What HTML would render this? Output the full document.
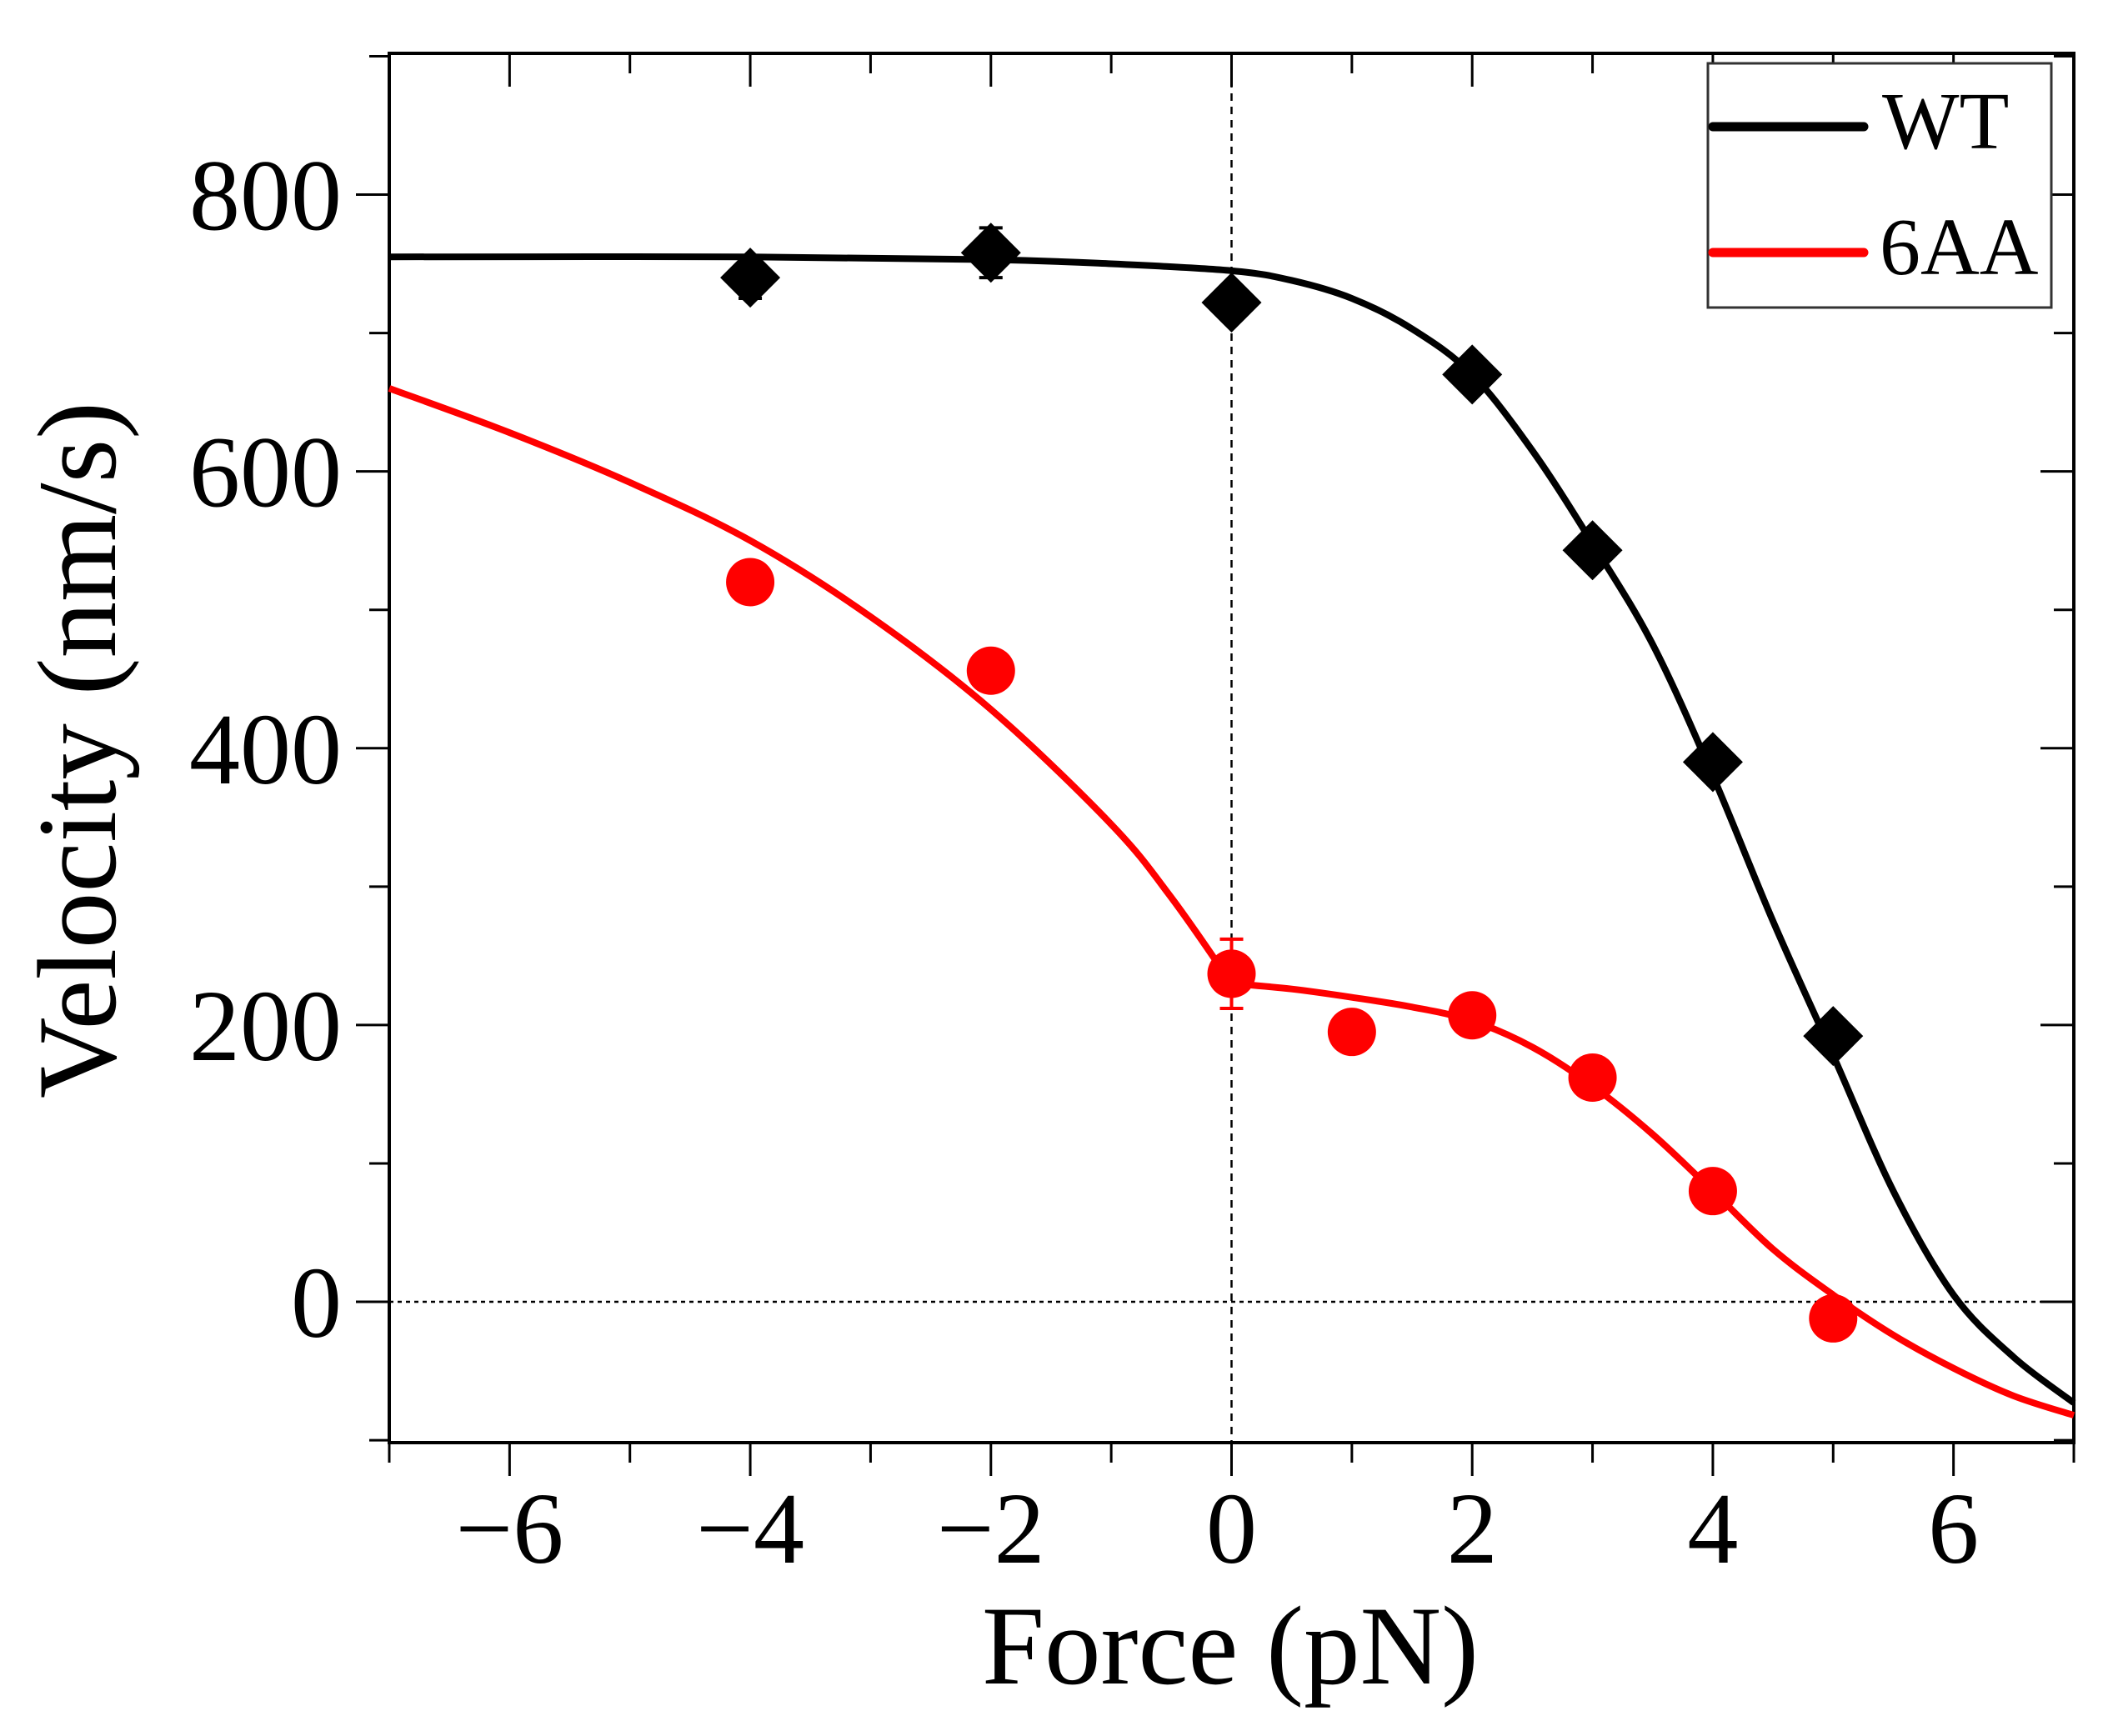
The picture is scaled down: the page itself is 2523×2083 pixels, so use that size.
<!DOCTYPE html>
<html><head><meta charset="utf-8"><style>
html,body{margin:0;padding:0;background:#fff;}
svg{display:block;font-family:"Liberation Serif",serif;}
</style></head><body>
<svg id="chart" width="2523" height="2083" viewBox="0 0 2523 2083">
<g id="axes"></g>
<g id="series"></g>
<g>
<rect x="2049" y="76" width="412" height="293" fill="#fff" stroke="#333" stroke-width="3"/>
<line x1="2055" y1="152" x2="2236" y2="152" stroke="#000" stroke-width="11" stroke-linecap="round"/>
<text x="2258" y="178" font-size="98">WT</text>
<line x1="2055" y1="303" x2="2236" y2="303" stroke="#f00" stroke-width="11" stroke-linecap="round"/>
<text x="2255" y="329" font-size="98">6AA</text>
</g>
<text x="1476" y="2020" font-size="135" text-anchor="middle">Force (pN)</text>
<text transform="translate(138,900) rotate(-90)" font-size="135" text-anchor="middle">Velocity (nm/s)</text>
</svg>
<script>
const xTicks=[-6,-4,-2,0,2,4,6];
const xTickLabels=["\u22126","\u22124","\u22122","0","2","4","6"];
const yTicks=[0,200,400,600,800];
const yTickLabels=["0","200","400","600","800"];
const wtForce=[-4,-2,0,2,3,4,5];
const wtVel=[740,758,722,670,543,390,192];
const wtErr=[15,18,12,10,10,10,10];
const aaForce=[-4,-2,0,1,2,3,4,5];
const aaVel=[520,456,237,195,207,162,80,-12];
const aaErr=[8,8,25,8,8,8,8,8];
const wtFitX=[-7,-4,-2,-1,0,0.5,1,1.5,2,2.5,3,3.5,4,4.5,5,5.5,6,6.5,7];
const wtFitY=[755,755,753,750,745,738,725,703,670,615,548,475,380,275,178,80,5,-40,-73];
const aaFitLeftX=[-7,-6,-5,-4,-3,-2,-1,-0.5,0];
const aaFitLeftY=[660,628,592,550,495,428,345,292,230];
const aaFitRightX=[0,0.5,1,1.5,2,2.5,3,3.5,4,4.5,5,5.5,6,6.5,7];
const aaFitRightY=[230,226,220,213,203,184,156,121,80,38,5,-24,-48,-68,-82];

const L=467,R=2488,T=64,B=1731;
const xMin=-7,xMax=7;
const X=v=>L+(v-xMin)/(xMax-xMin)*(R-L);
const Y=v=>1562-(v-0)*(1562-233.5)/800;
const NS="http://www.w3.org/2000/svg";
function mk(tag,attrs,parent){const e=document.createElementNS(NS,tag);for(const k in attrs)e.setAttribute(k,attrs[k]);parent.appendChild(e);return e;}
const ax=document.getElementById('axes'),se=document.getElementById('series');

let e=mk('line',{x1:L,x2:R,y1:Y(0),y2:Y(0),stroke:'#000','stroke-width':2.5,'stroke-dasharray':'5 5'},ax);


e=mk('line',{x1:X(0),x2:X(0),y1:T,y2:B,stroke:'#000','stroke-width':2.5,'stroke-dasharray':'9 7'},ax);



for(let v=-7;v<=7;v++){const major=v%2===0;const x=X(v);
 e=mk('line',{x1:x,x2:x,y1:B,y2:B+(major?40:24),stroke:'#000','stroke-width':3},ax);
 
 
 e=mk('line',{x1:x,x2:x,y1:T,y2:T+(major?40:24),stroke:'#000','stroke-width':3},ax);
 
 }
for(let v=-100;v<=900;v+=100){const major=v%200===0;const y=Y(v);
 e=mk('line',{x1:L-(major?40:24),x2:L,y1:y,y2:y,stroke:'#000','stroke-width':3},ax);
 
 
 e=mk('line',{x1:R-(major?40:24),x2:R,y1:y,y2:y,stroke:'#000','stroke-width':3},ax);
 
 }
xTicks.forEach((v,i)=>{e=mk('text',{x:X(v),y:1875,'font-size':122,'text-anchor':'middle'},ax);e.textContent=xTickLabels[i];
 
 });
yTicks.forEach((v,i)=>{e=mk('text',{x:410,y:Y(v)+42,'font-size':122,'text-anchor':'end'},ax);e.textContent=yTickLabels[i];
 
 });
e=mk('rect',{x:L,y:T,width:R-L,height:B-T,fill:'none',stroke:'#000','stroke-width':4},ax);



function smooth(xs,ys){const p=xs.map((x,i)=>[X(x),Y(ys[i])]);let d='M'+p[0][0]+','+p[0][1];
 for(let i=0;i<p.length-1;i++){const p0=p[i-1]||p[i],p1=p[i],p2=p[i+1],p3=p[i+2]||p2;
  const c1=[p1[0]+(p2[0]-p0[0])/6,p1[1]+(p2[1]-p0[1])/6],c2=[p2[0]-(p3[0]-p1[0])/6,p2[1]-(p3[1]-p1[1])/6];
  d+=` C${c1[0]},${c1[1]} ${c2[0]},${c2[1]} ${p2[0]},${p2[1]}`;}return d;}
e=mk('path',{d:smooth(wtFitX,wtFitY),fill:'none',stroke:'#000','stroke-width':8},se);


e=mk('path',{d:smooth(aaFitLeftX,aaFitLeftY)+' '+smooth(aaFitRightX,aaFitRightY),fill:'none',stroke:'#f00','stroke-width':8,'stroke-linejoin':'round'},se);



function errbar(x,v,er,c){const cx=X(x);
 e=mk('path',{d:`M${cx},${Y(v+er)}V${Y(v-er)}M${cx-14},${Y(v+er)}H${cx+14}M${cx-14},${Y(v-er)}H${cx+14}`,stroke:c,'stroke-width':4,fill:'none'},se);
 
 }
wtForce.forEach((x,i)=>{errbar(x,wtVel[i],wtErr[i],'#000');const cx=X(x),cy=Y(wtVel[i]),s=36;
 e=mk('polygon',{points:`${cx},${cy-s} ${cx+s},${cy} ${cx},${cy+s} ${cx-s},${cy}`,fill:'#000'},se);
 
 });
aaForce.forEach((x,i)=>{errbar(x,aaVel[i],aaErr[i],'#f00');
 e=mk('circle',{cx:X(x),cy:Y(aaVel[i]),r:29,fill:'#f00'},se);
 
 });
</script>
</body></html>
